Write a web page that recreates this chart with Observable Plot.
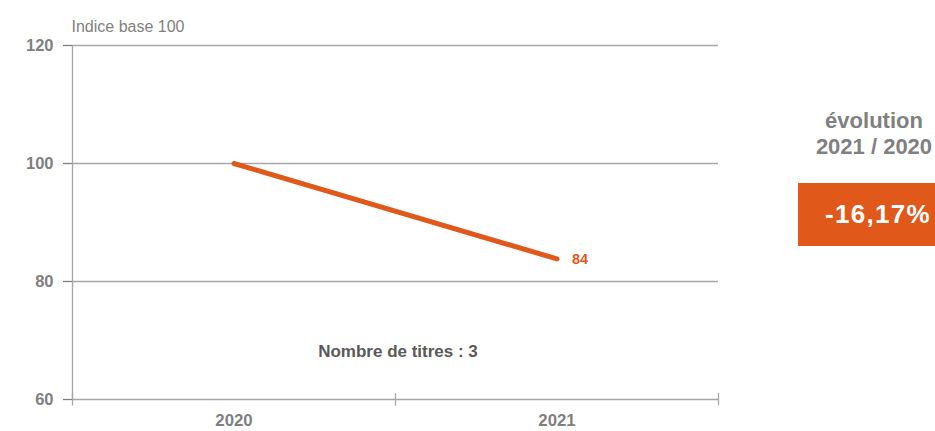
<!DOCTYPE html>
<html>
<head>
<meta charset="utf-8">
<script src="https://cdn.jsdelivr.net/npm/d3@7"></script>
<script src="https://cdn.jsdelivr.net/npm/@observablehq/plot@0.6"></script>
<style>
  html, body { margin: 0; padding: 0; background: #fff; overflow: hidden; }
  #wrap { position: relative; width: 935px; height: 431px; overflow: hidden; }
  #chart { position: absolute; left: 0; top: 0; }
  #panel { position: absolute; left: 798px; top: 108px; width: 152px; font-family: "Liberation Sans", Arial, sans-serif; font-weight: bold; }
  #panel .head { width: 152px; text-align: center; color: #808080; font-size: 22px; line-height: 25.5px; }
  #panel .box { margin-top: 24px; width: 160px; height: 63px; background: #E0581A; color: #fff; font-size: 26px; letter-spacing: 1.3px; display: flex; align-items: center; justify-content: center; }
</style>
</head>
<body>
<div id="wrap">
  <div id="chart"></div>
  <div id="panel">
    <div class="head">évolution<br>2021 / 2020</div>
    <div class="box">-16,17%</div>
  </div>
</div>
<script>
const years = [2020, 2021];
const values = [100, 83.83];
const yTicks = [60, 80, 100, 120];
const yTitle = "Indice base 100";
const nTitres = 3;

const orange = "#E0581A";
const grid = "#a6a6a6";
const font = "'Liberation Sans', Arial, sans-serif";
const data = years.map((y, i) => ({year: y, value: values[i]}));
const bounds = [years[0] - 0.5, ...years.map(y => y + 0.5)];
const last = data[data.length - 1];

const chart = Plot.plot({
  width: 935,
  height: 431,
  marginTop: 45,
  marginBottom: 32,
  marginLeft: 72,
  marginRight: 217,
  style: {fontFamily: font, background: "white", overflow: "visible"},
  x: {domain: [bounds[0], bounds[bounds.length - 1]], axis: null},
  y: {domain: [60, 120], axis: null},
  marks: [
    Plot.ruleY(yTicks, {stroke: grid, strokeWidth: 1.3}),
    Plot.ruleX([bounds[0]], {y1: 60, y2: 120, stroke: grid, strokeWidth: 1.3}),
    Plot.ruleX(bounds, {y1: 58.9, y2: 61, stroke: grid, strokeWidth: 1.3}),
    Plot.axisY({ticks: yTicks, tickSize: 9, tickPadding: 10, color: "#7f7f7f", fontSize: 16.5, fontWeight: "bold", label: null, strokeWidth: 1.3}),
    Plot.axisX({ticks: years, tickSize: 0, tickPadding: 15, color: "#7f7f7f", fontSize: 16.8, fontWeight: "bold", tickFormat: d => String(d), label: null}),
    Plot.text([yTitle], {frameAnchor: "top-left", text: d => d, textAnchor: "start", dx: -1, dy: -25, fill: "#808080", fontSize: 16}),
    Plot.line(data, {x: "year", y: "value", stroke: orange, strokeWidth: 5, strokeLinecap: "round"}),
    Plot.text([last], {x: "year", y: "value", text: d => String(Math.round(d.value)), textAnchor: "start", dx: 15, fill: orange, fontSize: 14.5, fontWeight: "bold"}),
    Plot.text(["Nombre de titres : " + nTitres], {frameAnchor: "bottom", text: d => d, dx: 2.5, dy: -42.5, fill: "#595959", fontSize: 17, fontWeight: "bold"})
  ]
});
document.getElementById("chart").appendChild(chart);
</script>
</body>
</html>
